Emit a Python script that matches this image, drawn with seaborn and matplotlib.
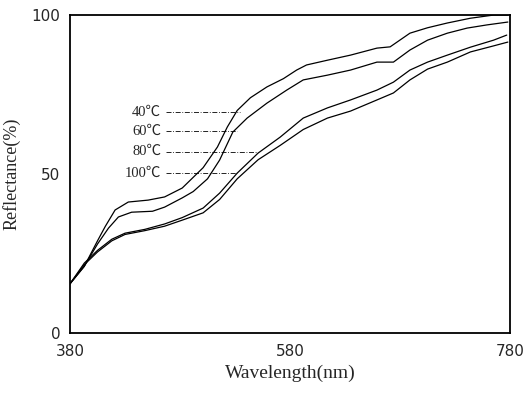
import numpy as np
import pandas as pd
import matplotlib
matplotlib.use("Agg")
import matplotlib.pyplot as plt
import seaborn as sns

# 读图估计的数据
wl_40 = [380, 393, 405, 412, 421, 433, 451, 466, 482, 501, 514, 523, 532, 544, 559, 574,
         586, 595, 614, 635, 659, 671, 689, 705, 723, 744, 765, 778]
r_40 = [15.5, 21, 29, 33.5, 38.7, 41.2, 41.8, 42.8, 45.6, 52, 58.5, 64.8, 70, 74, 77.4, 80,
        82.7, 84.3, 85.8, 87.4, 89.6, 90, 94.3, 96, 97.5, 99, 100, 100]

wl_60 = [380, 393, 405, 415, 424, 436, 455, 466, 482, 492, 505, 516, 528, 541, 559, 577,
         592, 614, 635, 659, 674, 689, 705, 723, 741, 759, 778]
r_60 = [15.5, 21, 28, 33, 36.5, 38, 38.3, 39.6, 42.5, 44.5, 48.5, 54.4, 63.2, 67.6, 72.3,
        76.4, 79.6, 81.1, 82.7, 85.2, 85.2, 89, 92.1, 94.3, 95.9, 96.9, 97.8]

wl_80 = [380, 393, 405, 418, 430, 448, 466, 482, 501, 516, 532, 551, 571, 592, 614, 635,
         659, 674, 689, 705, 723, 744, 765, 777]
r_80 = [15.5, 22, 26, 29.5, 31.4, 32.6, 34.3, 36.3, 39.3, 44, 50.3, 56.6, 61.6, 67.6, 70.8,
        73.3, 76.4, 78.9, 82.7, 85.2, 87.4, 89.9, 92.1, 93.7]

wl_100 = [380, 393, 405, 418, 430, 448, 466, 482, 501, 516, 532, 551, 571, 592, 614, 635,
          659, 674, 689, 705, 723, 744, 765, 778]
r_100 = [15.5, 21.5, 25.5, 29, 31, 32.2, 33.6, 35.5, 37.8, 42, 48.5, 54.5, 59, 64, 67.6,
         69.8, 73.3, 75.5, 79.6, 83, 85.2, 88.4, 90.3, 91.5]

temps = ["40℃", "60℃", "80℃", "100℃"]
label_y = [69.5, 63.5, 57, 50.3]
label_end = [534.5, 532, 551, 532]

x_ticks = [380, 580, 780]
y_ticks = [0, 50, 100]

frames = []
for t, wl, r in zip(temps, [wl_40, wl_60, wl_80, wl_100], [r_40, r_60, r_80, r_100]):
    frames.append(pd.DataFrame({"wl": wl, "r": r, "temp": t}))
df = pd.concat(frames, ignore_index=True)

sns.set_style("white")
plt.rcParams['font.family'] = ['DejaVu Sans']

fig = plt.figure(figsize=(5.28, 3.96), dpi=100)
ax = fig.add_axes([0.1326, 0.159, 0.8334, 0.803])

sns.lineplot(data=df, x="wl", y="r", hue="temp", palette=["black"] * 4,
             linewidth=0.9, legend=False, ax=ax, sort=False)

# 温度标注
for t, y, xe in zip(temps, label_y, label_end):
    ax.plot([467, xe], [y, y], color="black", linewidth=0.6, linestyle=(0, (6, 2, 1, 2)))
    ax.text(463, y, t, ha="right", va="center", fontsize=10.5,
            family=["Liberation Serif", "Noto Sans CJK SC"])

ax.set_xlim(380, 780)
ax.set_ylim(0, 100)
ax.set_xticks(x_ticks)
ax.set_yticks(y_ticks)
ax.tick_params(length=0, labelsize=11)
ax.tick_params(axis="x", pad=8)
ax.tick_params(axis="y", pad=7)
for s in ax.spines.values():
    s.set_color("black")
    s.set_linewidth(1.3)

ax.set_xlabel("Wavelength(nm)", family="Liberation Serif", fontsize=14, labelpad=4)
ax.set_ylabel("Reflectance(%)", family="Liberation Serif", fontsize=13, labelpad=8)

fig.savefig("out.png", dpi=100)
